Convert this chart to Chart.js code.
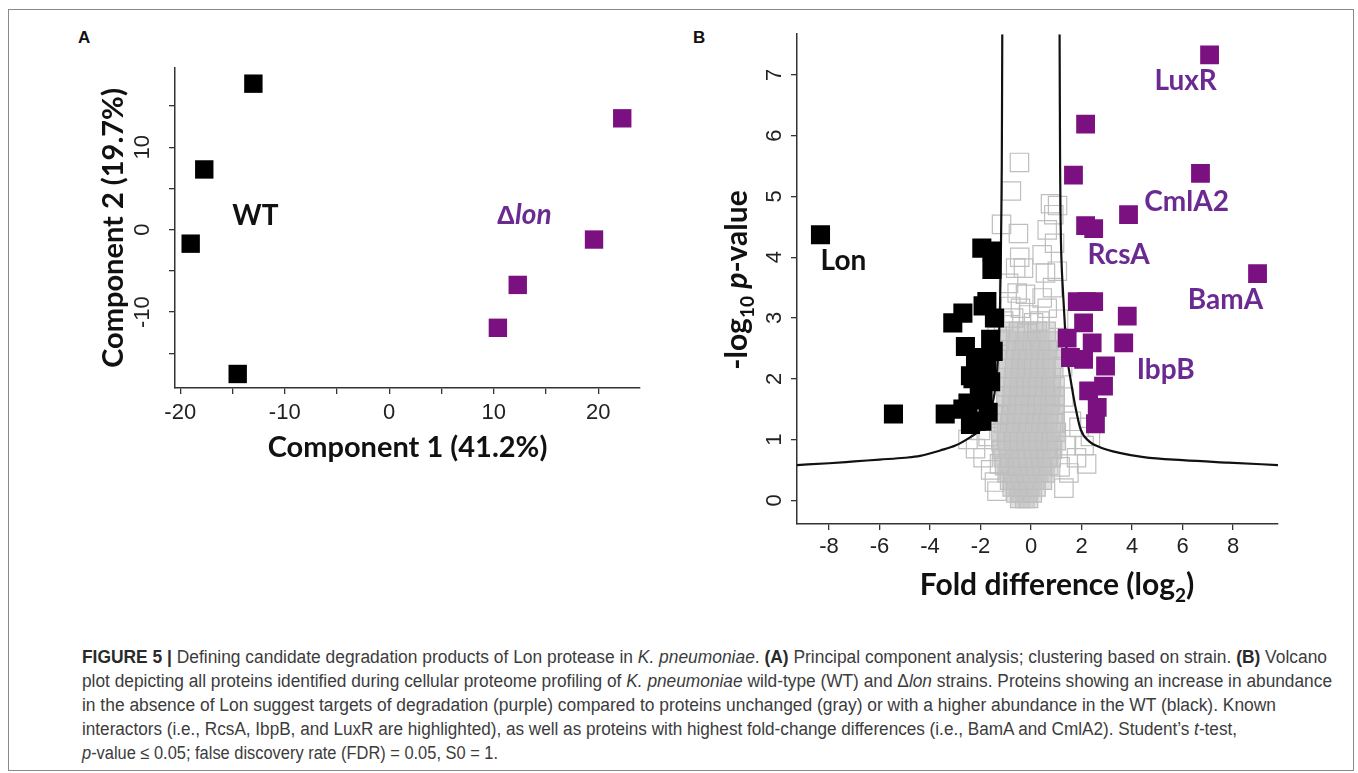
<!DOCTYPE html>
<html>
<head>
<meta charset="utf-8">
<script src="https://cdn.jsdelivr.net/npm/chart.js@4.4.1/dist/chart.umd.min.js"></script>
<style>
  body { margin: 0; background: #fff; width: 1358px; height: 773px; overflow: hidden; position: relative; }
  .frame { position: absolute; left: 8px; top: 9px; width: 1346px; height: 762px; border: 1px solid #8a8a8a; box-sizing: border-box; }
  .tag { position: absolute; font: bold 17px "Liberation Sans", Arial, sans-serif; color: #111; }
  #pca { position: absolute; left: 60px; top: 50px; }
  #volcano { position: absolute; left: 690px; top: 20px; }
  .caption { position: absolute; left: 82px; top: 645px; font: 400 18px "Liberation Sans", Arial, sans-serif; color: #3c3c3c; line-height: 24px; }
  .caption b { font-weight: 700; color: #2a2a2a; }
  .caption div { white-space: nowrap; transform-origin: 0 0; width: max-content; }
</style>
</head>
<body>
<div class="frame"></div>
<div class="tag" style="left:78px;top:28px">A</div>
<div class="tag" style="left:693px;top:28px">B</div>
<canvas id="pca" width="600" height="430"></canvas>
<canvas id="volcano" width="620" height="600"></canvas>
<div class="caption" id="caption">
  <div><b>FIGURE 5 |</b> Defining candidate degradation products of Lon protease in <i>K. pneumoniae</i>. <b>(A)</b> Principal component analysis; clustering based on strain. <b>(B)</b> Volcano</div>
  <div>plot depicting all proteins identified during cellular proteome profiling of <i>K. pneumoniae</i> wild-type (WT) and Δ<i>lon</i> strains. Proteins showing an increase in abundance</div>
  <div>in the absence of Lon suggest targets of degradation (purple) compared to proteins unchanged (gray) or with a higher abundance in the WT (black). Known</div>
  <div>interactors (i.e., RcsA, IbpB, and LuxR are highlighted), as well as proteins with highest fold-change differences (i.e., BamA and CmlA2). Student’s <i>t</i>-test,</div>
  <div><i>p</i>-value ≤ 0.05; false discovery rate (FDR) = 0.05, S0 = 1.</div>
</div>
<script>
// ---- panel A: PCA scores ----
const wtPC1 = [-13.0, -17.7, -19.0, -14.5];
const wtPC2 = [17.7, 7.3, -1.7, -17.5];
const lonPC1 = [22.3, 19.6, 12.3, 10.4];
const lonPC2 = [13.5, -1.2, -6.7, -11.9];
const pcaXTicks = [-20, -15, -10, -5, 0, 5, 10, 15, 20];
const pcaXLabels = ["-20", "", "-10", "", "0", "", "10", "", "20"];
const pcaYTicks = [-15, -10, -5, 0, 5, 10, 15];
const pcaYLabels = ["", "-10", "", "0", "", "10", ""];

// ---- panel B: volcano ----
const wtUpX = [-8.34, -5.45, -3.4, -3.1, -2.7, -2.6, -2.4, -2.5, -2.15, -1.9, -1.95, -1.55, -1.55, -1.75, -1.45, -1.9, -2.3, -1.6, -1.75, -1.5, -2.7, -2.4, -1.95, -1.9, -2.05, -1.7, -1.6, -2.2, -2.0];
const wtUpY = [4.37, 1.42, 1.42, 2.92, 3.08, 2.53, 2.05, 1.6, 1.3, 3.2, 4.15, 4.1, 3.8, 3.27, 3.0, 2.35, 2.0, 1.95, 2.2, 2.45, 1.5, 1.25, 1.3, 1.65, 1.8, 1.45, 2.65, 2.3, 2.1];
const lonUpX = [7.07, 2.16, 1.68, 6.71, 3.86, 2.16, 2.48, 8.97, 1.83, 2.48, 3.81, 2.08, 1.43, 2.42, 3.67, 1.56, 2.08, 2.95, 2.87, 2.28, 2.62, 2.55, 2.2];
const lonUpY = [7.33, 6.19, 5.35, 5.38, 4.70, 4.52, 4.47, 3.73, 3.27, 3.27, 3.03, 2.92, 2.67, 2.59, 2.59, 2.35, 2.32, 2.21, 1.88, 1.8, 1.53, 1.26, 3.27];

// unchanged proteins: dense cloud, read row by row (y, then x positions)
const unchangedRows = [
  [0.03, [-0.45, -0.25, -0.1]],
  [0.12, [-0.6, -0.4, -0.15, 0.05]],
  [0.22, [-0.75, -0.5, -0.3, -0.05, 0.2]],
  [0.33, [-0.85, -0.6, -0.35, -0.1, 0.15, 0.45]],
  [0.45, [-0.95, -0.7, -0.45, -0.2, 0.05, 0.3, 0.55]],
  [0.57, [-1.05, -0.8, -0.55, -0.3, -0.05, 0.2, 0.45, 0.7]],
  [0.70, [-1.1, -0.85, -0.6, -0.35, -0.1, 0.15, 0.4, 0.65, 0.8]],
  [0.84, [-1.15, -0.9, -0.65, -0.4, -0.15, 0.1, 0.35, 0.6, 0.85]],
  [0.98, [-1.2, -0.95, -0.7, -0.45, -0.2, 0.05, 0.3, 0.55, 0.8, 1.0]],
  [1.12, [-1.2, -0.95, -0.7, -0.45, -0.2, 0.05, 0.3, 0.55, 0.8, 1.0]],
  [1.27, [-1.1, -0.85, -0.6, -0.35, -0.1, 0.15, 0.4, 0.65, 0.95]],
  [1.42, [-1.05, -0.8, -0.55, -0.3, -0.05, 0.2, 0.45, 0.7, 0.95]],
  [1.57, [-1.0, -0.75, -0.5, -0.25, 0.0, 0.25, 0.5, 0.75, 0.95]],
  [1.72, [-1.0, -0.75, -0.5, -0.25, 0.0, 0.25, 0.5, 0.75, 0.95]],
  [1.87, [-0.95, -0.7, -0.45, -0.2, 0.05, 0.3, 0.55, 0.8, 0.95]],
  [2.02, [-0.95, -0.7, -0.45, -0.2, 0.05, 0.3, 0.55, 0.8]],
  [2.17, [-0.9, -0.65, -0.4, -0.15, 0.1, 0.35, 0.6, 0.9]],
  [2.32, [-0.9, -0.65, -0.4, -0.15, 0.1, 0.35, 0.6, 0.85]],
  [2.47, [-0.9, -0.6, -0.35, -0.1, 0.15, 0.4, 0.65, 0.85]],
  [2.62, [-0.85, -0.55, -0.25, 0.05, 0.35, 0.7]],
  [2.78, [-0.9, -0.5, -0.15, 0.25, 0.6]]
];
// unchanged proteins: scattered ones outside the cloud
const unchangedX = [-0.46, -0.78, -1.17, -0.5, 0.77, 1.05, 0.64, 0.93, 0.44, -0.45, -0.61, -0.3, 0.57, 1.04, -0.89, -0.55, -0.22, 0.44, -0.81, -0.42, 0.64, 1.09, -1.09, -0.69, 0.1, -1.34, 0.9, 0.85, -0.1, 0.35,
  -2.5, -2.2, -1.9, -1.7, -2.0, -1.6, -1.45, -1.35, 1.3, 1.5, 1.8, 2.1, 2.35, 1.9, 1.6, 1.4, 2.2, 1.3, 1.25, -1.3, -2.3, 1.15, -1.25];
const unchangedY = [5.56, 5.09, 4.54, 4.39, 4.88, 4.85, 4.45, 4.23, 4.04, 4.0, 3.82, 3.82, 3.74, 3.77, 3.57, 3.41, 3.39, 3.33, 3.19, 3.16, 3.16, 2.98, 2.95, 3.0, 2.92, 2.7, 4.7, 3.5, 3.05, 2.95,
  1.0, 0.85, 0.7, 1.05, 1.15, 0.5, 0.3, 0.15, 0.2, 0.45, 0.7, 0.9, 1.05, 1.2, 1.3, 0.9, 0.6, 1.7, 2.2, 1.4, 1.3, 0.55, 0.6];

// significance cut-off curves (FDR 0.05, S0 1)
const cutLeftX = [-9.27, -8, -7, -6, -5, -4.4, -3.6, -3, -2.4, -2, -1.75, -1.6, -1.45, -1.35, -1.28, -1.23, -1.2, -1.18, -1.16, -1.15, -1.14];
const cutLeftY = [0.58, 0.61, 0.64, 0.67, 0.7, 0.73, 0.82, 0.9, 1.04, 1.16, 1.32, 1.47, 1.75, 2.1, 2.6, 3.2, 3.9, 4.6, 5.5, 6.5, 7.67];
const cutRightX = [1.13, 1.14, 1.15, 1.17, 1.2, 1.27, 1.35, 1.45, 1.56, 1.75, 1.96, 2.3, 2.75, 3.5, 4.46, 6, 7.8, 9.78];
const cutRightY = [7.67, 6.5, 5.5, 4.6, 4.0, 3.4, 2.8, 2.3, 2.0, 1.55, 1.17, 0.97, 0.87, 0.78, 0.71, 0.66, 0.62, 0.58];

const volcanoXTicks = [-8, -6, -4, -2, 0, 2, 4, 6, 8];
const volcanoYTicks = [0, 1, 2, 3, 4, 5, 6, 7];

const proteinNames = ["Lon", "LuxR", "CmlA2", "RcsA", "BamA", "IbpB"];
const proteinNameX = [-7.43, 6.12, 6.16, 3.47, 7.70, 5.33];
const proteinNameY = [3.96, 6.91, 4.93, 4.06, 3.31, 2.16];

// printed widths of the caption lines
const captionWidths = [1245, 1250, 1194, 1155, 416];

const BLACK = "#000000";
const PURPLE = "#7b1180";
const PURPLE_TEXT = "#6b2a92";
const GRAY = "rgb(190,190,190)";
const LABEL_FONT = "Lato, 'Open Sans', sans-serif";

const pairs = (xs, ys) => xs.map((x, i) => ({ x: x, y: ys[i] }));
const unchangedCore = [];
unchangedRows.forEach(([y, xs]) => xs.forEach(x => unchangedCore.push({ x: x, y: y })));

const tickFont = { family: "'Liberation Sans', Arial, sans-serif", size: 22 };
const titleFont = { family: LABEL_FONT, size: 29, weight: "bold" };

function axisStyle(ticks, labels, pad, size, vertical) {
  return {
    type: "linear",
    afterBuildTicks: s => { s.ticks = ticks.map(v => ({ value: v })); },
    afterFit: s => {
      if (vertical) s.width = size; else s.height = size;
      s.paddingTop = 0; s.paddingBottom = 0; s.paddingLeft = 0; s.paddingRight = 0;
    },
    ticks: {
      font: tickFont, color: "#222", padding: pad, autoSkip: false,
      minRotation: vertical ? 90 : 0, maxRotation: vertical ? 90 : 0,
      crossAlign: vertical ? "center" : "near",
      callback: (v, i) => labels ? labels[i] : String(v)
    },
    grid: { drawOnChartArea: false, tickLength: 6, color: "#333", lineWidth: 1.3 },
    border: { color: "#333", width: 1.5 }
  };
}

function richText(ctx, parts, cx, cy, rot) {
  ctx.save();
  ctx.translate(cx, cy);
  ctx.rotate(rot || 0);
  ctx.textBaseline = "alphabetic";
  ctx.textAlign = "left";
  let total = 0;
  parts.forEach(p => { ctx.font = p.font; total += ctx.measureText(p.text).width; });
  let x = -total / 2;
  parts.forEach(p => {
    ctx.font = p.font;
    ctx.fillStyle = p.color || "#111";
    ctx.fillText(p.text, x, p.dy || 0);
    x += ctx.measureText(p.text).width;
  });
  ctx.restore();
}

// ---- chart A ----
const pcaText = {
  id: "pcaText",
  afterDatasetsDraw(chart) {
    const { ctx, scales: { x, y } } = chart;
    const f = "bold 28px " + LABEL_FONT;
    richText(ctx, [{ text: "WT", font: f }], x.getPixelForValue(-12.8), y.getPixelForValue(1.8) + 10);
    richText(ctx, [
      { text: "Δ", font: "bold 26px 'Liberation Sans', sans-serif", color: PURPLE_TEXT },
      { text: "lon", font: "italic bold 28px " + LABEL_FONT, color: PURPLE_TEXT }
    ], x.getPixelForValue(12.9), y.getPixelForValue(1.9) + 10);
  }
};

new Chart(document.getElementById("pca"), {
  type: "scatter",
  data: {
    datasets: [
      { label: "WT", data: pairs(wtPC1, wtPC2), pointStyle: "rect", pointRadius: 13, backgroundColor: BLACK, borderColor: BLACK, borderWidth: 0 },
      { label: "lon", data: pairs(lonPC1, lonPC2), pointStyle: "rect", pointRadius: 13, backgroundColor: PURPLE, borderColor: PURPLE, borderWidth: 0 }
    ]
  },
  options: {
    responsive: false, animation: false, events: [],
    layout: { padding: { top: 18, right: 20, left: 0, bottom: 0 } },
    plugins: { legend: { display: false }, tooltip: { enabled: false } },
    scales: {
      x: Object.assign(axisStyle(pcaXTicks, pcaXLabels, 6, 92, false), {
        min: -20.5, max: 24,
        title: { display: true, text: "Component 1 (41.2%)", font: titleFont, color: "#111", padding: { top: 0, bottom: 15 } }
      }),
      y: Object.assign(axisStyle(pcaYTicks, pcaYLabels, 10, 115, true), {
        min: -19.2, max: 19.6,
        title: { display: true, text: "Component 2 (19.7%)", font: titleFont, color: "#111", padding: { top: 36, bottom: 0 } }
      })
    }
  },
  plugins: [pcaText]
});

// ---- chart B ----
const volcanoText = {
  id: "volcanoText",
  afterDatasetsDraw(chart) {
    const { ctx, scales: { x, y } } = chart;
    proteinNames.forEach((name, i) => {
      richText(ctx, [{ text: name, font: "bold 28px " + LABEL_FONT, color: i === 0 ? "#111" : PURPLE_TEXT }],
        x.getPixelForValue(proteinNameX[i]), y.getPixelForValue(proteinNameY[i]) + 10);
    });
    const big = "bold 30px " + LABEL_FONT, small = "bold 19px " + LABEL_FONT;
    richText(ctx, [
      { text: "Fold difference (log", font: big },
      { text: "2", font: small, dy: 7 },
      { text: ")", font: big }
    ], 367, 575);
    richText(ctx, [
      { text: "-log", font: big },
      { text: "10", font: small, dy: 7 },
      { text: " ", font: big },
      { text: "p", font: "italic " + big },
      { text: "-value", font: big }
    ], 57, 260, -Math.PI / 2);
  }
};

new Chart(document.getElementById("volcano"), {
  type: "scatter",
  data: {
    datasets: [
      { label: "unchanged (cloud)", data: unchangedCore, order: 5, pointStyle: "rect", pointRadius: 13, backgroundColor: "rgba(196,196,196,0.5)", borderColor: GRAY, borderWidth: 1.2 },
      { label: "unchanged", data: pairs(unchangedX, unchangedY), order: 4, pointStyle: "rect", pointRadius: 13, backgroundColor: "rgba(255,255,255,0)", borderColor: GRAY, borderWidth: 1.2 },
      { label: "cut-off left", data: pairs(cutLeftX, cutLeftY), order: 3, showLine: true, pointRadius: 0, borderColor: "#111", borderWidth: 2.2, cubicInterpolationMode: "monotone" },
      { label: "cut-off right", data: pairs(cutRightX, cutRightY), order: 3, showLine: true, pointRadius: 0, borderColor: "#111", borderWidth: 2.2, cubicInterpolationMode: "monotone" },
      { label: "higher in WT", data: pairs(wtUpX, wtUpY), order: 2, pointStyle: "rect", pointRadius: 13.5, backgroundColor: BLACK, borderColor: BLACK, borderWidth: 0 },
      { label: "higher in lon", data: pairs(lonUpX, lonUpY), order: 1, pointStyle: "rect", pointRadius: 13.3, backgroundColor: PURPLE, borderColor: PURPLE, borderWidth: 0 }
    ]
  },
  options: {
    responsive: false, animation: false, events: [],
    layout: { padding: { top: 12, right: 32, left: 0, bottom: 0 } },
    plugins: { legend: { display: false }, tooltip: { enabled: false } },
    scales: {
      x: Object.assign(axisStyle(volcanoXTicks, null, 4, 96, false), { min: -9.27, max: 9.78 }),
      y: Object.assign(axisStyle(volcanoYTicks, null, 10, 107, true), { min: -0.39, max: 7.67 })
    }
  },
  plugins: [volcanoText]
});

// caption: squeeze each line to its printed measure
document.querySelectorAll("#caption div").forEach((l, i) => {
  const f = captionWidths[i] / l.getBoundingClientRect().width;
  l.style.transform = "scaleX(" + f + ")";
});
</script>
</body>
</html>
